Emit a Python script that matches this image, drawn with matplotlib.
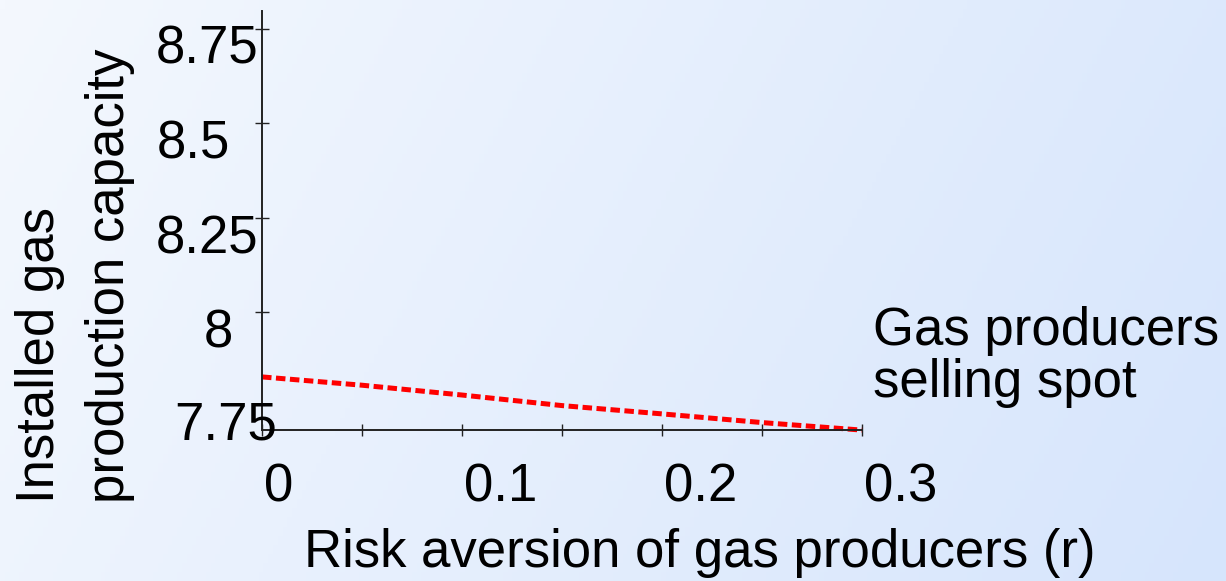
import numpy as np
import matplotlib
matplotlib.use("Agg")
import matplotlib.pyplot as plt

# ---- data ----
risk_aversion = [0.0, 0.05, 0.10, 0.15, 0.20, 0.25, 0.30]
capacity_spot = [7.828, 7.806, 7.780, 7.752, 7.730, 7.707, 7.687]
x_ticks = [0.0, 0.05, 0.10, 0.15, 0.20, 0.25, 0.30]
x_ticklabels = {0.0: "0", 0.10: "0.1", 0.20: "0.2", 0.30: "0.3"}
y_ticks = [7.6873, 8.0, 8.25, 8.5, 8.75]
y_ticklabels = ["7.75", "8", "8.25", "8.5", "8.75"]
xlabel = "Risk aversion of gas producers (r)"
ylabel = "Installed gas\nproduction capacity"
series_label = "Gas producers\nselling spot"

plt.rcParams['font.family'] = ['Liberation Sans', 'DejaVu Sans']
FS = 38

W, H = 1226, 581
fig = plt.figure(figsize=(W / 100, H / 100), dpi=100)

# background gradient
bg = fig.add_axes([0, 0, 1, 1], zorder=-10)
gx = np.linspace(0, 1, 256)[None, :]
gy = np.linspace(0, 1, 64)[:, None]
t = np.clip(0.8 * gx + 0.2 * gy, 0, 1)
c0 = np.array([0xF4, 0xF8, 0xFE]) / 255
c1 = np.array([0xD6, 0xE5, 0xFC]) / 255
img = c0[None, None, :] * (1 - t[..., None]) + c1[None, None, :] * t[..., None]
bg.imshow(img, aspect='auto', extent=[0, 1, 0, 1], origin='upper')
bg.set_axis_off()

# main axes (pixel box: x 262..862, y 11..430)
ax = fig.add_axes([262 / W, 1 - 430 / H, 600 / W, 419 / H])
ax.patch.set_alpha(0)
ax.plot(risk_aversion, capacity_spot, color='#ff0000', lw=3.6,
        linestyle=(0, (1.9, 0.9)), solid_capstyle='butt', clip_on=False)
ax.set_xlim(0, 0.3)
ax.set_ylim(7.6873, 8.7977)

for s in ['top', 'right']:
    ax.spines[s].set_visible(False)
for s in ['left', 'bottom']:
    ax.spines[s].set_color('#222222')
    ax.spines[s].set_linewidth(1.4)

ax.set_xticks(x_ticks)
ax.set_xticklabels([])
ax.set_yticks(y_ticks[1:])
ax.set_yticklabels([])
ax.tick_params(axis='x', direction='inout', length=9, width=1.0, color='#222222')
ax.tick_params(axis='y', direction='inout', length=10, width=1.0, color='#222222')

# x tick labels, left-aligned at tick
xt = ax.get_xaxis_transform()
for xv, lab in x_ticklabels.items():
    ax.annotate(lab, xy=(xv, 0), xycoords=xt, xytext=(2, -58),
                textcoords='offset pixels', ha='left', va='center',
                fontsize=FS, annotation_clip=False)

# y tick labels (centres relative to spine/tick)
yt = ax.get_yaxis_transform()
y_offsets = [(-36, 4), (-44, -21), (-55, -22), (-69, -21), (-55, -21)]
for yv, lab, (dx, dy) in zip(y_ticks, y_ticklabels, y_offsets):
    ax.annotate(lab, xy=(0, yv), xycoords=yt, xytext=(dx, dy),
                textcoords='offset pixels', ha='center', va='center',
                fontsize=FS, annotation_clip=False)

# axis labels
fig.text(700 / W, 1 - 553 / H, xlabel, ha='center', va='center', fontsize=FS)
fig.text(75 / W, 1 - 503 / H, ylabel, ha='center', va='bottom', rotation=90,
         multialignment='left', fontsize=FS, linespacing=1.5)

# series label
fig.text(873 / W, 1 - 357 / H, series_label, ha='left', va='center',
         fontsize=FS, linespacing=1.05)

fig.savefig("out.png", dpi=100)
